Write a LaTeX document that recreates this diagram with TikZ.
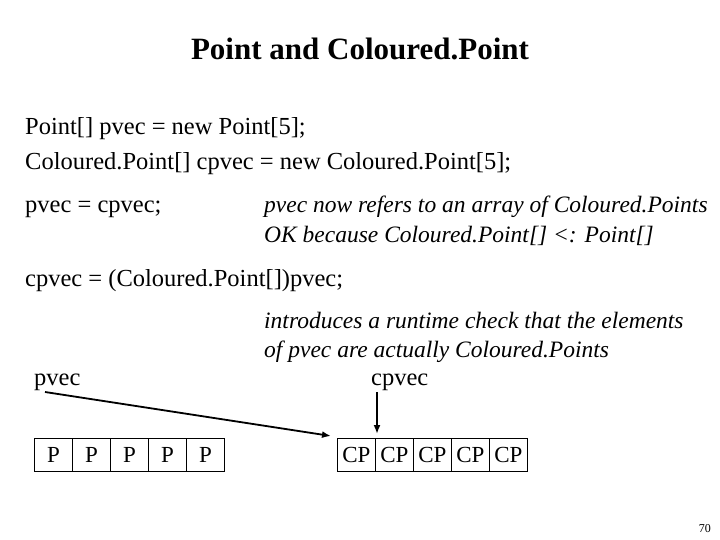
\documentclass[tikz,border=0pt]{standalone}
\usepackage{fontspec}
\usetikzlibrary{arrows.meta}
\setmainfont{Liberation Serif}
\begin{document}
\begin{tikzpicture}[x=1pt,y=-1pt,
  txt/.style={anchor=base west,inner sep=0pt,font=\fontsize{24.5}{28}\selectfont},
  itx/.style={txt,font=\fontsize{23.5}{28}\selectfont\itshape},
  cell/.style={draw,line width=0.8pt,minimum width=38pt,minimum height=33pt,inner sep=0pt,anchor=north west,font=\fontsize{23}{26}\selectfont},
  arr/.style={-{Latex[length=9pt,width=7pt]},line width=1.8pt}]
\useasboundingbox (0,0) rectangle (720,540);
\node[anchor=base,inner sep=0pt,font=\fontsize{31}{34}\selectfont\bfseries] (title) at (360,60) {Point and Coloured.Point};
\node[txt] (l1) at (25,135) {Point[] pvec = new Point[5];};
\node[txt] (l2) at (25,170) {Coloured.Point[] cpvec = new Coloured.Point[5];};
\node[txt] (l3) at (25,213) {pvec = cpvec;};
\node[itx] (c1) at (264,213) {pvec now refers to an array of Coloured.Points};
\node[itx] (c2) at (264,242) {OK because Coloured.Point[] <: Point[]};
\node[txt] (l4) at (25,286) {cpvec = (Coloured.Point[])pvec;};
\node[itx] (c3) at (264,328) {introduces a runtime check that the elements};
\node[itx] (c4) at (264,357) {of pvec are actually Coloured.Points};
\node[txt] (pv) at (34,385) {pvec};
\node[txt] (cpv) at (371,385) {cpvec};
\foreach \i in {0,...,4}{
  \node[cell] (p\i) at (34+38*\i,438) {P};
  \node[cell] (q\i) at (337+38*\i,438) {CP};
}
\coordinate (a1) at (45,392);
\coordinate (b1) at (377,392);
\draw[arr] (a1) -- (331,436);
\draw[arr] (b1) -- (377,434);
\node[anchor=base east,inner sep=0pt,font=\fontsize{12}{14}\selectfont] (pg) at (711,532) {70};
\end{tikzpicture}
\end{document}
